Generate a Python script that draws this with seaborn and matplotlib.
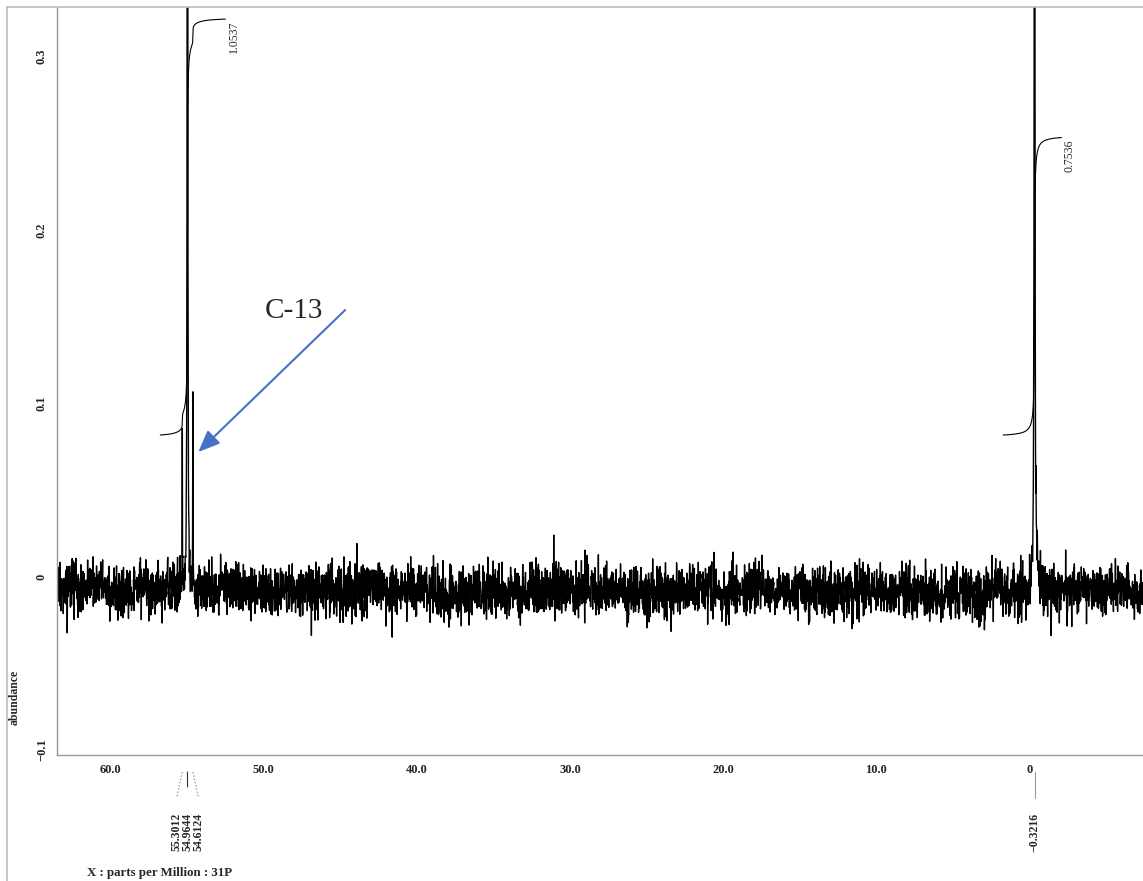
import numpy as np
import pandas as pd
import matplotlib
matplotlib.use("Agg")
import matplotlib.pyplot as plt
import matplotlib.transforms as mtransforms
from matplotlib.lines import Line2D
import seaborn as sns

# ---------------------------------------------------------------- data
# resolved lines: position (ppm), apex height above baseline, half width (ppm)
peak_ppm = [55.3012, 54.9644, 54.6124, 31.06, -0.3216]
peak_apex = [0.0935, 1.20, 0.1146, 0.032, 0.90]
peak_hwhm = [0.008, 0.015, 0.008, 0.005, 0.02]

# broad feet under the two main resonances
foot_ppm = [54.9644, -0.3216]
foot_height = [0.010, 0.014]
foot_hwhm = [0.15, 0.15]

baseline_level = -0.008
noise_sigma = 0.0072
drift_sigma = 0.0012

# integrated regions: start / end (ppm) and integral value
integral_start = [56.74, 1.73]
integral_end = [52.50, -2.08]
integral_value = [1.0537, 0.7536]
integral_offset = 0.0817
integral_scale = 0.2276

# peak-pick labels printed under the axis
pick_groups = [[55.3012, 54.9644, 54.6124], [-0.3216]]
pick_text = [["55.3012", "54.9644", "54.6124"], ["\u22120.3216"]]

x_major = [60, 50, 40, 30, 20, 10, 0]
x_major_labels = ["60.0", "50.0", "40.0", "30.0", "20.0", "10.0", "0"]
x_minor_step = 2
y_major = [-0.1, 0.0, 0.1, 0.2, 0.3]
y_major_labels = ["\u22120.1", "0", "0.1", "0.2", "0.3"]
y_minor = [0.29, 0.28, 0.27, 0.19, 0.18, 0.17, 0.09, 0.08, 0.07,
           0.01, -0.01, -0.07, -0.08, -0.09]

x_limits = (63.48, -7.40)
y_limits = (-0.1028, 0.3285)

# ---------------------------------------------------------------- spectrum
def lorentz(x, c, g):
    return 1.0 / (1.0 + ((x - c) / g) ** 2)

def feet(x):
    return sum(h * lorentz(x, c, g) for c, h, g in zip(foot_ppm, foot_height, foot_hwhm))

P = np.array(peak_ppm)
G = np.array(peak_hwhm)
# amplitudes chosen so each line tops out at its apex height
A = lorentz(P[:, None], P[None, :], G[None, :])
amps = np.linalg.solve(A, np.array(peak_apex) - feet(P))

def signal(x):
    return feet(x) + sum(a * lorentz(x, c, g) for a, c, g in zip(amps, P, G))

ppm = np.union1d(np.linspace(x_limits[1], x_limits[0], 5000), P)
rng = np.random.default_rng(31)
noise = rng.normal(0.0, noise_sigma, ppm.size)
noise += np.convolve(rng.normal(0.0, 1.0, ppm.size), np.ones(60) / np.sqrt(60), mode="same") * drift_sigma
# keep the line apexes clean
apex_idx = np.searchsorted(ppm, P)
noise[apex_idx] = 0.0
df = pd.DataFrame({"ppm": ppm, "abundance": baseline_level + signal(ppm) + noise})

# ---------------------------------------------------------------- figure
sns.set_style("white")
plt.rcParams["font.family"] = ["Liberation Serif", "DejaVu Serif"]

W, H, DPI = 1143, 881, 100
fig = plt.figure(figsize=(W / DPI, H / DPI), dpi=DPI)
ax = fig.add_axes([57 / W, (H - 755) / H, (W - 57) / W, (755 - 7) / H])

sns.lineplot(data=df, x="ppm", y="abundance", ax=ax, color="black",
             linewidth=1.0, estimator=None, sort=False)

ax.set_xlim(*x_limits)
ax.set_ylim(*y_limits)
ax.set_xlabel("")
ax.set_ylabel("")

# integral traces
for s, e, v in zip(integral_start, integral_end, integral_value):
    xi = np.linspace(s, e, 3000)
    yi = signal(xi)
    cum = np.concatenate([[0.0], np.cumsum((yi[1:] + yi[:-1]) / 2 * np.abs(np.diff(xi)))])
    curve = integral_offset + cum / cum[-1] * v * integral_scale
    ax.plot(xi, curve, color="black", linewidth=0.8)
    ax.text(e - 0.55, curve[-1] - 0.001, f"{v:.4f}", rotation=90, ha="center",
            va="top", fontsize=8.5)

# axes styling
spine_col = "#9a9a9a"
for side in ("top", "right"):
    ax.spines[side].set_visible(False)
for side in ("left", "bottom"):
    ax.spines[side].set_color(spine_col)
    ax.spines[side].set_linewidth(1.0)

ax.set_xticks(x_major)
ax.set_xticklabels(x_major_labels, fontweight="bold", fontsize=9)
ax.set_xticks(np.arange(-6, 64, x_minor_step), minor=True)
ax.set_yticks(y_major)
ax.set_yticklabels(y_major_labels, rotation=90, va="center", fontweight="bold", fontsize=9)
ax.set_yticks(y_minor, minor=True)
ax.tick_params(axis="both", which="both", direction="out", length=2.5, width=0.8,
               color=spine_col)
ax.tick_params(axis="x", which="major", pad=4)
ax.tick_params(axis="y", which="major", pad=4)

# C-13 annotation
ax.annotate("", xy=(54.26, 0.0719), xytext=(44.67, 0.1538),
            arrowprops=dict(arrowstyle="-|>,head_length=0.6,head_width=0.25",
                            color="#4472C4", lw=1.5, mutation_scale=22,
                            shrinkA=0, shrinkB=0))
ax.text(49.89, 0.1494, "C-13", fontsize=21, ha="left", va="baseline")

# peak-pick labels with leader lines (display pixels)
ident = mtransforms.IdentityTransform()
y_axis = ax.transAxes.transform((0, 0))[1]
for group, texts in zip(pick_groups, pick_text):
    cx = ax.transData.transform((np.mean(group), 0))[0]
    n = len(group)
    for i, (p, t) in enumerate(zip(group, texts)):
        px = ax.transData.transform((p, 0))[0]
        lx = cx + (i - (n - 1) / 2) * 11
        straight = abs(lx - px) < 1
        if n > 1 and straight:
            col, ls, y_end = "#333333", "-", y_axis - 32
        elif straight:
            col, ls, y_end = "#9a9a9a", "-", y_axis - 43
        else:
            col, ls, y_end = "#9a9a9a", (0, (1.5, 1.5)), y_axis - 43
        fig.add_artist(Line2D([px, lx], [y_axis - 17, y_end], transform=ident,
                              color=col, lw=0.8, linestyle=ls))
        fig.text(lx, y_axis - 58, t, transform=ident, rotation=90, ha="center",
                 va="top", fontsize=8.5, fontweight="bold")

# outer frame
frame_col = "#bdbdbd"
fig.add_artist(Line2D([7 / W, 7 / W], [0, 1 - 7 / H], transform=fig.transFigure,
                      color=frame_col, lw=1.2))
fig.add_artist(Line2D([7 / W, 1], [1 - 7 / H, 1 - 7 / H], transform=fig.transFigure,
                      color=frame_col, lw=1.2))

fig.text(15 / W, 1 - 697 / H, "abundance", rotation=90, ha="center", va="center",
         fontsize=8.5, fontweight="bold")
fig.text(87 / W, 1 - 873 / H, "X : parts per Million : 31P", ha="left", va="center",
         fontsize=9.3, fontweight="bold")

fig.savefig("out.png", dpi=DPI)
